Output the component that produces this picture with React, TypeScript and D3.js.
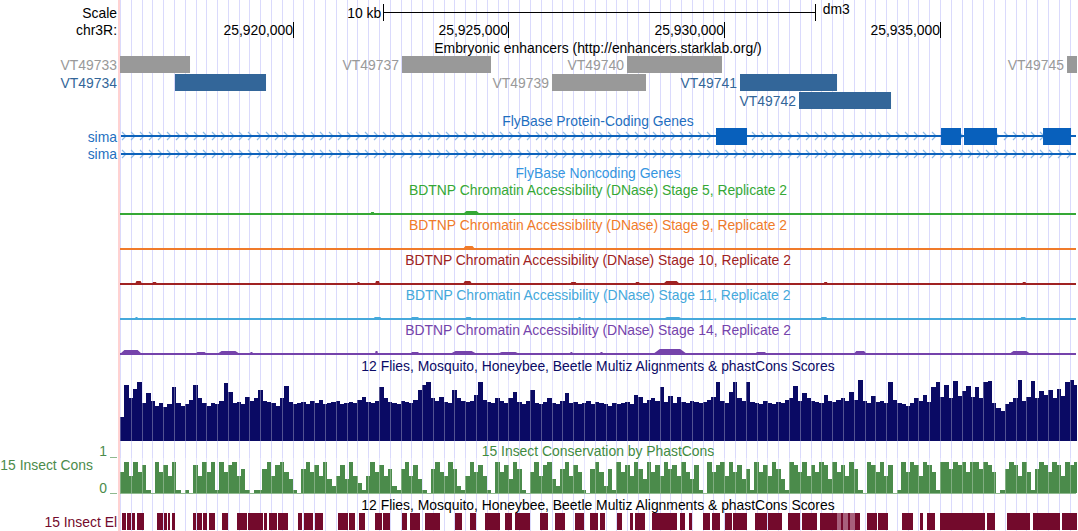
import React from 'react';
import * as d3 from 'd3';

// ---------- data ----------
const VIEW_START = 25916000;
const VIEW_END = 25938150;
const CHROM = 'chr3R';
const ASSEMBLY = 'dm3';
const axisTicks = [25920000, 25925000, 25930000, 25935000];
const scaleBarStart = 25922098;
const scaleBarEnd = 25932098;
const scaleBarLabel = '10 kb';
const gridStep = 250;

const enhancerNames = ['VT49733', 'VT49737', 'VT49740', 'VT49745', 'VT49734', 'VT49739', 'VT49741', 'VT49742'];
const enhancerStarts = [25915000, 25922534, 25927747, 25937942, 25917274, 25926009, 25930365, 25931732];
const enhancerEnds = [25917622, 25924596, 25929948, 25940000, 25919383, 25928187, 25932613, 25933864];
const enhancerRows = [0, 0, 0, 0, 1, 1, 1, 2];
const enhancerActive = [false, false, false, false, true, false, true, true];

const geneNames = ['sima', 'sima'];
const geneStarts = [25910000, 25910000];
const geneEnds = [25945000, 25945000];
const geneExons: number[][][] = [
  [[25929809, 25930528], [25935023, 25935486], [25935555, 25936320], [25937386, 25938035]],
  [],
];

const dnaseStages = ['5', '9', '10', '11', '14'];
const dnasePeaks: number[][][] = [
  [[25923947, 25924341, 2], [25921800, 25921900, 1]],
  [[25923947, 25924225, 2]],
  [[25916348, 25916510, 2], [25916741, 25916857, 1], [25921491, 25921560, 1], [25921908, 25922024, 2],
   [25923947, 25924156, 2], [25926427, 25926589, 1], [25927933, 25928048, 1], [25928581, 25928975, 2],
   [25932300, 25932400, 1], [25936900, 25937000, 1]],
  [[25916348, 25916417, 1], [25921862, 25922071, 1], [25922719, 25922951, 1], [25923994, 25924156, 1],
   [25926612, 25926680, 1], [25928581, 25929045, 1], [25932219, 25932400, 1], [25936853, 25937000, 1]],
  [[25916000, 25916510, 3], [25917738, 25918016, 1], [25918247, 25918780, 2], [25919012, 25919080, 1],
   [25921908, 25921978, 2], [25922719, 25922951, 1], [25923646, 25924272, 2], [25924735, 25925268, 1],
   [25926427, 25926490, 1], [25927122, 25927190, 1], [25928350, 25929137, 4], [25930700, 25931000, 1],
   [25933000, 25933300, 2], [25936600, 25937100, 2]],
];

// 100 bp bins from VIEW_START, score in % of track height
const multizBinSize = 100;
const multizScores = [
  40, 92, 70, 86, 96, 62, 78, 66, 58, 62, 55,
  60, 88, 62, 58, 60, 68, 92, 70, 62, 58,
  62, 60, 66, 95, 80, 62, 64, 60, 72, 66,
  70, 84, 66, 64, 62, 58, 70, 90, 64, 60,
  62, 64, 60, 66, 62, 68, 60, 62, 64, 66, 60, 62,
  64, 62, 68, 72, 64, 62, 66, 88, 70, 64, 62, 60, 66,
  64, 62, 68, 84, 92, 96, 70, 66, 72, 64, 62, 84, 70, 66, 64,
  66, 76, 96, 68, 64, 62, 70, 66,
  62, 70, 80, 64, 60, 66, 84, 62, 60, 64, 70, 62, 60, 66, 78, 62, 64, 60, 62, 66, 60, 64,
  62, 60, 58, 62, 60, 62, 64, 60, 76, 72, 62, 68,
  70, 66, 88, 64, 74, 62, 72, 64, 62, 66, 64, 62,
  64, 68, 72, 96, 66, 62, 80, 96, 70, 66, 96, 64,
  62, 60, 66, 62, 60, 64, 62, 68, 70, 90, 66, 78,
  70, 66, 64, 62, 76, 66, 64, 68, 70, 66, 80, 68,
  100, 66, 62, 74, 64, 66, 62, 97, 68, 62, 60, 58,
  62, 70, 66, 76, 64, 88, 96, 72, 92, 70, 98, 74,
  82, 90, 72, 88, 70, 96, 98, 62, 54, 50, 60, 64,
  70, 100, 66, 72, 98, 70, 82, 76, 84, 70, 86, 74, 96, 100, 92,
];

// 15 insect phastCons, tenths, 100 bp bins
const phastConsTenths = [
  6, 9, 5, 9, 6, 8, 1, 0, 9, 6, 8, 5, 9, 1, 0, 1, 0, 8, 5, 9, 6, 9, 1,
  9, 6, 8, 9, 5, 7, 1, 0, 1, 1, 7, 9, 5, 8, 9, 6, 4, 1, 0, 7, 9, 6, 8, 5, 9, 4,
  2, 5, 8, 4, 9, 5, 3, 1, 5, 9, 6, 8, 5, 7, 2, 1,
  7, 9, 5, 8, 4, 1, 0, 7, 9, 6, 5, 9, 7, 2, 1, 5, 9, 6, 8, 5, 1, 0, 9, 6, 8, 4, 9, 7, 1, 0,
  6, 9, 5, 8, 9, 4, 2, 7, 9, 5, 8, 6, 1, 0, 7, 9,
  6, 2, 7, 1, 9, 6, 8, 5, 9, 7, 4, 9, 6, 8, 5, 9, 7, 8, 5, 9, 6, 4, 8,
  1, 0, 9, 6, 8, 9, 5, 9, 6, 8, 4, 7, 1, 9, 6, 8, 5, 9, 7, 4, 1,
  9, 8, 6, 9, 5, 8, 6, 9, 8, 4, 9, 6, 8, 5, 9, 7, 1, 0, 9, 8, 6, 9, 5, 8, 0, 1,
  9, 6, 9, 8, 5, 9, 8, 6, 1, 9, 9, 7, 9, 8, 9, 6, 9, 9, 7, 9, 8, 6, 0, 1,
  7, 9, 8, 5, 9, 6, 1, 7, 9, 8, 6, 9, 8, 5, 9, 8, 9,
];

// 15 insect conserved elements [start, end, score]
const elements: number[][] = [
  [25916046, 25916139, 900], [25916162, 25916255, 900], [25916278, 25916348, 900], [25916394, 25916556, 900],
  [25916857, 25916996, 900], [25917019, 25917089, 900], [25917112, 25917159, 900], [25917205, 25917274, 900],
  [25917691, 25917761, 900], [25917784, 25917900, 900], [25917923, 25918016, 900], [25918062, 25918201, 900],
  [25918363, 25918502, 900], [25918711, 25918943, 900], [25918966, 25919313, 900], [25919336, 25919406, 900],
  [25919452, 25919638, 900], [25919661, 25919893, 900], [25920124, 25920217, 900], [25920263, 25920472, 900],
  [25920518, 25920704, 900], [25921051, 25921283, 900], [25921306, 25921445, 900], [25921538, 25921677, 900],
  [25921908, 25922071, 900], [25922094, 25922256, 900],
  [25922534, 25922650, 900], [25922719, 25922951, 900], [25923067, 25923414, 900], [25923762, 25923924, 900],
  [25924110, 25924249, 900], [25924457, 25924805, 900], [25924920, 25925083, 900], [25925152, 25925500, 900],
  [25925731, 25925917, 900], [25926079, 25926311, 900], [25926542, 25926751, 900], [25926890, 25927075, 900],
  [25927122, 25927237, 900], [25927515, 25927631, 900], [25927817, 25927886, 900], [25927933, 25928164, 900],
  [25928326, 25928906, 900], [25928975, 25929091, 900], [25929184, 25929253, 900], [25929508, 25929670, 900],
  [25929717, 25929902, 900], [25930018, 25930180, 900], [25930203, 25930528, 900], [25930713, 25930991, 900],
  [25931014, 25931339, 900], [25931478, 25931756, 900], [25931802, 25932149, 900], [25932219, 25932613, 900],
  [25932613, 25932700, 500], [25932700, 25932760, 900], [25932760, 25932860, 500], [25932860, 25932920, 900],
  [25932920, 25933040, 500], [25933040, 25933146, 900],
  [25933308, 25933540, 900], [25933563, 25933795, 900], [25934119, 25934374, 900],
  [25934536, 25934605, 900], [25934698, 25934884, 900], [25934999, 25935532, 900], [25935532, 25936042, 900],
  [25936088, 25936274, 900], [25936552, 25937085, 900], [25937154, 25937780, 900], [25937826, 25938174, 900],
];

const titles = {
  enhancers: 'Embryonic enhancers (http://enhancers.starklab.org/)',
  coding: 'FlyBase Protein-Coding Genes',
  noncoding: 'FlyBase Noncoding Genes',
  multiz: '12 Flies, Mosquito, Honeybee, Beetle Multiz Alignments & phastCons Scores',
  cons: '15 Insect Conservation by PhastCons',
};

// ---------- drawing ----------
const FONT = "'Liberation Sans', Arial, Helvetica, sans-serif";
const FS = 13.9;
const LEFT = 120;
const RIGHT = 1076;
const MID = (LEFT + RIGHT) / 2;
const dnaseColors = ['#35a835', '#f07b2a', '#a02222', '#45a9db', '#7543ab'];

export default function App() {
  const W = 1078;
  const H = 531;
  const x = d3.scaleLinear().domain([VIEW_START, VIEW_END]).range([LEFT, RIGHT]);
  const fmt = d3.format(',');
  const gridXs = d3
    .range(Math.ceil(VIEW_START / gridStep) * gridStep, VIEW_END, gridStep)
    .map((g) => Math.round(x(g)) + 0.5);

  const multizY = d3.scaleLinear().domain([0, 100]).range([441, 380]);
  const consY = d3.scaleLinear().domain([0, 10]).range([493, 458]);

  const txt = (t: string, tx: number, ty: number, fill: string, anchor = 'start', key?: string) => (
    <text key={key} x={tx} y={ty} fill={fill} textAnchor={anchor} fontFamily={FONT} fontSize={FS}>
      {t}
    </text>
  );

  const rowTop = [56, 74, 92];
  const geneY = [136, 154];
  const geneLabelY = [141.5, 159];
  const dnaseTitleY = [195, 230, 265, 300, 335];

  const overlayGrid = (y0: number, y1: number) => (
    <g stroke="#ffffff" strokeOpacity={0.3} strokeWidth={1}>
      {gridXs.map((gx, i) => (
        <line key={i} x1={gx} x2={gx} y1={y0} y2={y1} />
      ))}
    </g>
  );

  return (
    <svg width={W} height={H} style={{ position: 'fixed', left: 0, top: 0, background: '#fff' }}>
      <defs>
        <clipPath id="data">
          <rect x={LEFT} y={0} width={RIGHT - LEFT + 1} height={H} />
        </clipPath>
      </defs>
      <rect x={0} y={0} width={W} height={H} fill="#fff" />
      {/* guidelines */}
      <g stroke="#dadafc" strokeWidth={1}>
        {gridXs.map((gx, i) => (
          <line key={i} x1={gx} x2={gx} y1={0} y2={H} />
        ))}
      </g>
      <rect x={118} y={0} width={2} height={H} fill="#ffd2d2" />

      {/* scale bar */}
      <g stroke="#000" strokeWidth={1} shapeRendering="crispEdges">
        <line x1={x(scaleBarStart)} x2={x(scaleBarEnd)} y1={12.5} y2={12.5} />
        <line x1={Math.round(x(scaleBarStart)) + 0.5} x2={Math.round(x(scaleBarStart)) + 0.5} y1={4} y2={21} />
        <line x1={Math.round(x(scaleBarEnd)) + 0.5} x2={Math.round(x(scaleBarEnd)) + 0.5} y1={4} y2={21} />
      </g>
      {txt('Scale', 117, 17.7, '#000', 'end')}
      {txt(scaleBarLabel, x(scaleBarStart) - 2, 17.5, '#000', 'end')}
      {txt(ASSEMBLY, x(scaleBarEnd) + 8, 14, '#000', 'start')}

      {/* position axis */}
      {txt(CHROM + ':', 117, 34.5, '#000', 'end')}
      {axisTicks.map((t) => (
        <g key={t}>
          <line x1={Math.round(x(t)) + 0.5} x2={Math.round(x(t)) + 0.5} y1={22} y2={38} stroke="#000" />
          {txt(fmt(t), Math.round(x(t)), 34.5, '#000', 'end')}
        </g>
      ))}

      {/* enhancers */}
      {txt(titles.enhancers, MID, 53, '#000', 'middle')}
      <g clipPath="url(#data)">
        {enhancerNames.map((n, i) => (
          <rect
            key={n}
            x={x(enhancerStarts[i])}
            y={rowTop[enhancerRows[i]]}
            width={x(enhancerEnds[i]) - x(enhancerStarts[i])}
            height={17}
            fill={enhancerActive[i] ? '#336699' : '#999999'}
          />
        ))}
      </g>
      {enhancerNames.map((n, i) => {
        const sx = x(enhancerStarts[i]);
        const lx = sx - 60 < LEFT ? 117 : sx - 3;
        return txt(n, lx, rowTop[enhancerRows[i]] + 14, enhancerActive[i] ? '#336699' : '#999999', 'end', 'l' + n);
      })}

      {/* genes */}
      {txt(titles.coding, MID, 125.5, '#1f6fc0', 'middle')}
      {geneNames.map((g, gi) => {
        const y = geneY[gi];
        const gx0 = Math.max(LEFT + 1, x(geneStarts[gi]));
        const gx1 = Math.min(RIGHT, x(geneEnds[gi]));
        const chev = d3.range(gx0 + 3, gx1 - 2, 9);
        return (
          <g key={gi}>
            <g stroke="#8ebbe8" strokeWidth={1.2} fill="none">
              {chev.map((c, k) => (
                <path key={k} d={`M${c - 2},${y - 4} L${c + 2},${y} L${c - 2},${y + 4}`} />
              ))}
            </g>
            <rect x={gx0} y={y - 1} width={gx1 - gx0} height={2} fill="#0b62bb" />
            {geneExons[gi].map((e, k) => (
              <rect key={k} x={x(e[0])} y={y - 8} width={x(e[1]) - x(e[0])} height={17} fill="#0860bc" />
            ))}
            {txt(g, 117, geneLabelY[gi], '#1f6fc0', 'end')}
          </g>
        );
      })}
      {txt(titles.noncoding, MID, 178, '#3596e0', 'middle')}

      {/* DNase tracks */}
      {dnaseStages.map((s, i) => {
        const base = dnaseTitleY[i] + 19;
        const y = d3.scaleLinear().domain([0, 20]).range([base - 1, base - 21]);
        return (
          <g key={s}>
            {txt(
              `BDTNP Chromatin Accessibility (DNase) Stage ${s}, Replicate 2`,
              MID,
              dnaseTitleY[i],
              dnaseColors[i],
              'middle'
            )}
            <rect x={LEFT} y={base - 1} width={RIGHT - LEFT} height={2} fill={dnaseColors[i]} />
            <g clipPath="url(#data)" fill={dnaseColors[i]}>
              {dnasePeaks[i].map((p, k) => {
                const x0 = x(p[0]);
                const x1 = Math.max(x0 + 2, x(p[1]));
                const w = x1 - x0;
                const top = y(p[2]);
                return (
                  <path
                    key={k}
                    d={`M${x0},${base} L${x0 + w * 0.2},${top} L${x1 - w * 0.2},${top} L${x1},${base} Z`}
                  />
                );
              })}
            </g>
          </g>
        );
      })}

      {/* multiz conservation */}
      {txt(titles.multiz, MID, 371, '#0b0b66', 'middle')}
      <g clipPath="url(#data)" shapeRendering="crispEdges">
        {multizScores.map((v, i) => {
          const s = VIEW_START + i * multizBinSize;
          return (
            <rect
              key={i}
              x={x(s)}
              width={x(s + multizBinSize) - x(s) + 0.3}
              y={multizY(v)}
              height={multizY(0) - multizY(v)}
              fill="#0a0a64"
            />
          );
        })}
        {overlayGrid(380, 441)}
      </g>

      {/* 15 insect phastCons */}
      {txt(titles.cons, MID, 456, '#3f8a3f', 'middle')}
      {txt('1', 107, 456, '#4b8b4b', 'end')}
      {txt('0', 107, 492.5, '#4b8b4b', 'end')}
      {txt('15 Insect Cons', 93, 470, '#4b8b4b', 'end')}
      <g stroke="#8fb98f" strokeWidth={1}>
        <line x1={110} x2={117} y1={consY(10) - 0.5} y2={consY(10) - 0.5} />
        <line x1={110} x2={117} y1={consY(0) + 0.5} y2={consY(0) + 0.5} />
        <line x1={LEFT} x2={RIGHT} y1={consY(0) + 0.5} y2={consY(0) + 0.5} />
      </g>
      <g clipPath="url(#data)" shapeRendering="crispEdges">
        {phastConsTenths.map((v, i) => {
          const s = VIEW_START + i * multizBinSize;
          return (
            <rect
              key={i}
              x={x(s)}
              width={x(s + multizBinSize) - x(s) + 0.3}
              y={consY(v)}
              height={consY(0) - consY(v)}
              fill="#4b8b4b"
            />
          );
        })}
        {overlayGrid(458, 493)}
      </g>

      {/* elements */}
      {txt(titles.multiz, MID, 510, '#000', 'middle')}
      {txt('15 Insect El', 117, 527, '#730a2c', 'end')}
      <g clipPath="url(#data)" shapeRendering="crispEdges">
        {elements.map((e, i) => (
          <rect
            key={i}
            x={x(e[0])}
            y={513}
            width={Math.max(1, x(e[1]) - x(e[0]))}
            height={17}
            fill={e[2] >= 800 ? '#730a2c' : '#a8607c'}
          />
        ))}
      </g>
    </svg>
  );
}
